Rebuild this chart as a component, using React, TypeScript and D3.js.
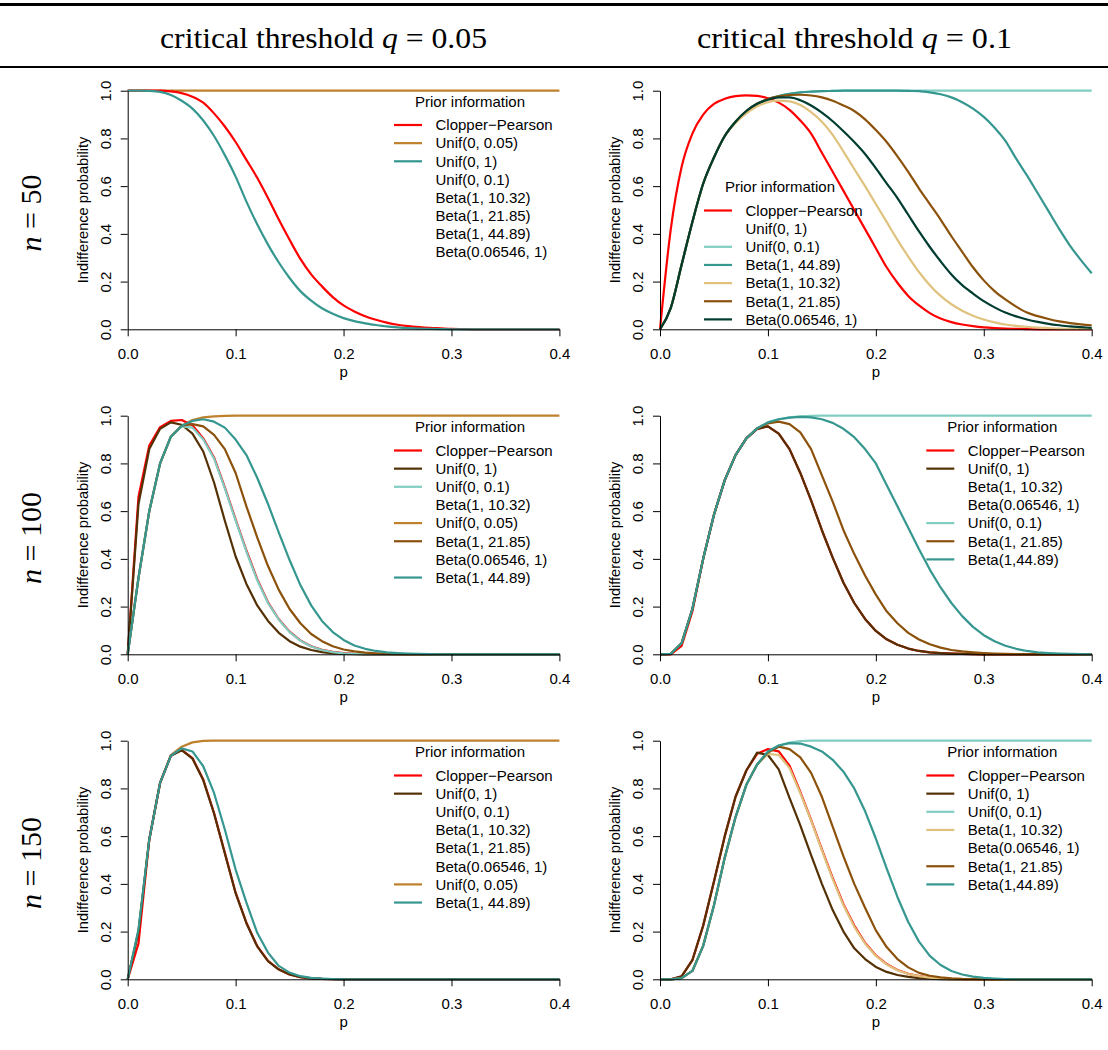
import React, { useEffect, useRef } from "react";
import * as d3 from "d3";

// p grid shared by every curve
const pGrid = [0, 0.01, 0.02, 0.03, 0.04, 0.05, 0.06, 0.07, 0.08, 0.09, 0.1, 0.11, 0.12, 0.13, 0.14, 0.15, 0.16, 0.17, 0.18, 0.19, 0.2, 0.21, 0.22, 0.23, 0.24, 0.25, 0.26, 0.27, 0.28, 0.29, 0.3, 0.31, 0.32, 0.33, 0.34, 0.35, 0.36, 0.37, 0.38, 0.39, 0.4];
const xTicks = [0, 0.1, 0.2, 0.3, 0.4];
const yTicks = [0, 0.2, 0.4, 0.6, 0.8, 1];
const colTitles = ["0.05", "0.1"];
const rowTitles = ["50", "100", "150"];

// colours
const RED = "#ff0000";
const ORANGE = "#bf812d";
const BEIGE = "#dfc27d";
const BROWN = "#8c510a";
const DKBROWN = "#543005";
const LTTEAL = "#80cdc1";
const TEAL = "#35978f";
const DKGREEN = "#003c30";

// n = 50, q = 0.05
const cp50q05 = [1, 1, 1, 1, 0.997, 0.99, 0.975, 0.95, 0.905, 0.85, 0.785, 0.71, 0.635, 0.55, 0.46, 0.375, 0.295, 0.23, 0.18, 0.135, 0.1, 0.075, 0.055, 0.04, 0.028, 0.019, 0.013, 0.009, 0.006, 0.004, 0.002, 0.001, 0, 0, 0, 0, 0, 0, 0, 0, 0];
const u005n50q05 = [1, 1, 1, 1, 1, 1, 1, 1, 1, 1, 1, 1, 1, 1, 1, 1, 1, 1, 1, 1, 1, 1, 1, 1, 1, 1, 1, 1, 1, 1, 1, 1, 1, 1, 1, 1, 1, 1, 1, 1, 1];
const u1n50q05 = [1, 1, 0.999, 0.995, 0.982, 0.958, 0.925, 0.875, 0.81, 0.73, 0.64, 0.535, 0.44, 0.355, 0.28, 0.215, 0.16, 0.12, 0.088, 0.065, 0.047, 0.034, 0.025, 0.018, 0.012, 0.008, 0.005, 0.003, 0.002, 0.001, 0, 0, 0, 0, 0, 0, 0, 0, 0, 0, 0];

// n = 50, q = 0.1
const cp50q1 = [0, 0.42, 0.68, 0.82, 0.9, 0.945, 0.966, 0.977, 0.98, 0.978, 0.968, 0.95, 0.92, 0.875, 0.82, 0.74, 0.66, 0.58, 0.5, 0.42, 0.34, 0.26, 0.195, 0.14, 0.1, 0.068, 0.045, 0.03, 0.02, 0.013, 0.008, 0.005, 0.003, 0.002, 0.001, 0, 0, 0, 0, 0, 0];
const u01n50q1 = [0, 0.09, 0.27, 0.45, 0.61, 0.72, 0.81, 0.87, 0.915, 0.945, 0.965, 0.978, 0.987, 0.993, 0.996, 0.998, 0.999, 1, 1, 1, 1, 1, 1, 1, 1, 1, 1, 1, 1, 1, 1, 1, 1, 1, 1, 1, 1, 1, 1, 1, 1];
const b4489n50q1 = [0, 0.09, 0.27, 0.45, 0.61, 0.72, 0.81, 0.87, 0.915, 0.945, 0.965, 0.978, 0.987, 0.993, 0.996, 0.998, 0.999, 1, 1, 1, 1, 1, 1, 0.999, 0.998, 0.993, 0.985, 0.972, 0.952, 0.925, 0.89, 0.845, 0.79, 0.715, 0.645, 0.57, 0.495, 0.42, 0.35, 0.29, 0.235];
const b1032n50q1 = [0, 0.09, 0.27, 0.45, 0.61, 0.72, 0.81, 0.865, 0.905, 0.935, 0.952, 0.958, 0.955, 0.94, 0.91, 0.87, 0.815, 0.745, 0.672, 0.6, 0.525, 0.45, 0.375, 0.305, 0.24, 0.185, 0.14, 0.105, 0.078, 0.057, 0.041, 0.029, 0.02, 0.014, 0.01, 0.007, 0.005, 0.003, 0.002, 0.002, 0.001];
const b2185n50q1 = [0, 0.09, 0.27, 0.45, 0.61, 0.72, 0.81, 0.87, 0.915, 0.945, 0.965, 0.976, 0.982, 0.983, 0.98, 0.972, 0.958, 0.938, 0.915, 0.88, 0.835, 0.785, 0.725, 0.66, 0.59, 0.525, 0.46, 0.39, 0.325, 0.26, 0.205, 0.16, 0.125, 0.095, 0.07, 0.055, 0.043, 0.033, 0.026, 0.021, 0.017];
const b06546n50q1 = [0, 0.09, 0.27, 0.45, 0.61, 0.72, 0.81, 0.87, 0.915, 0.945, 0.962, 0.972, 0.972, 0.96, 0.938, 0.908, 0.872, 0.83, 0.785, 0.735, 0.675, 0.612, 0.55, 0.48, 0.41, 0.345, 0.285, 0.23, 0.185, 0.15, 0.118, 0.092, 0.07, 0.054, 0.041, 0.031, 0.023, 0.017, 0.012, 0.009, 0.006];

// n = 100, q = 0.05
const cp100q05 = [0, 0.66, 0.875, 0.952, 0.978, 0.982, 0.96, 0.905, 0.825, 0.7, 0.565, 0.435, 0.315, 0.218, 0.147, 0.095, 0.058, 0.034, 0.019, 0.01, 0.005, 0.002, 0.001, 0, 0, 0, 0, 0, 0, 0, 0, 0, 0, 0, 0, 0, 0, 0, 0, 0, 0];
const u1n100q05 = [0, 0.63, 0.86, 0.945, 0.972, 0.962, 0.925, 0.85, 0.72, 0.56, 0.41, 0.295, 0.205, 0.14, 0.09, 0.055, 0.032, 0.018, 0.009, 0.004, 0.002, 0.001, 0, 0, 0, 0, 0, 0, 0, 0, 0, 0, 0, 0, 0, 0, 0, 0, 0, 0, 0];
const u01n100q05 = [0, 0.32, 0.6, 0.8, 0.912, 0.955, 0.95, 0.9, 0.82, 0.695, 0.56, 0.43, 0.31, 0.215, 0.145, 0.093, 0.057, 0.033, 0.018, 0.009, 0.004, 0.002, 0.001, 0, 0, 0, 0, 0, 0, 0, 0, 0, 0, 0, 0, 0, 0, 0, 0, 0, 0];
const u005n100q05 = [0, 0.32, 0.6, 0.8, 0.912, 0.958, 0.982, 0.993, 0.997, 0.999, 1, 1, 1, 1, 1, 1, 1, 1, 1, 1, 1, 1, 1, 1, 1, 1, 1, 1, 1, 1, 1, 1, 1, 1, 1, 1, 1, 1, 1, 1, 1];
const b2185n100q05 = [0, 0.32, 0.6, 0.8, 0.912, 0.958, 0.965, 0.955, 0.92, 0.86, 0.76, 0.62, 0.49, 0.37, 0.27, 0.19, 0.13, 0.085, 0.055, 0.034, 0.02, 0.012, 0.007, 0.004, 0.002, 0.001, 0, 0, 0, 0, 0, 0, 0, 0, 0, 0, 0, 0, 0, 0, 0];
const b4489n100q05 = [0, 0.32, 0.6, 0.8, 0.912, 0.958, 0.978, 0.985, 0.975, 0.95, 0.9, 0.835, 0.74, 0.63, 0.51, 0.395, 0.29, 0.205, 0.14, 0.093, 0.06, 0.037, 0.023, 0.014, 0.008, 0.005, 0.003, 0.002, 0.001, 0, 0, 0, 0, 0, 0, 0, 0, 0, 0, 0, 0];

// n = 100, q = 0.1
const cp100q1 = [0, 0, 0.035, 0.18, 0.4, 0.585, 0.73, 0.835, 0.905, 0.945, 0.955, 0.925, 0.86, 0.76, 0.645, 0.52, 0.405, 0.3, 0.215, 0.148, 0.098, 0.063, 0.04, 0.024, 0.014, 0.008, 0.005, 0.003, 0.002, 0.001, 0, 0, 0, 0, 0, 0, 0, 0, 0, 0, 0];
const u1n100q1 = [0, 0.002, 0.046, 0.19, 0.4, 0.585, 0.73, 0.835, 0.905, 0.945, 0.955, 0.925, 0.86, 0.76, 0.645, 0.52, 0.405, 0.3, 0.215, 0.148, 0.098, 0.063, 0.04, 0.024, 0.014, 0.008, 0.005, 0.003, 0.002, 0.001, 0, 0, 0, 0, 0, 0, 0, 0, 0, 0, 0];
const u01n100q1 = [0, 0.002, 0.046, 0.19, 0.4, 0.585, 0.73, 0.835, 0.905, 0.947, 0.972, 0.985, 0.993, 0.997, 0.999, 1, 1, 1, 1, 1, 1, 1, 1, 1, 1, 1, 1, 1, 1, 1, 1, 1, 1, 1, 1, 1, 1, 1, 1, 1, 1];
const b2185n100q1 = [0, 0.002, 0.046, 0.19, 0.4, 0.585, 0.73, 0.835, 0.905, 0.947, 0.968, 0.975, 0.965, 0.93, 0.86, 0.75, 0.64, 0.52, 0.42, 0.33, 0.25, 0.18, 0.13, 0.09, 0.062, 0.042, 0.028, 0.018, 0.012, 0.008, 0.005, 0.003, 0.002, 0.001, 0, 0, 0, 0, 0, 0, 0];
const b4489n100q1 = [0, 0.002, 0.046, 0.19, 0.4, 0.585, 0.73, 0.835, 0.905, 0.947, 0.972, 0.985, 0.992, 0.995, 0.993, 0.985, 0.97, 0.945, 0.91, 0.86, 0.8, 0.71, 0.62, 0.53, 0.44, 0.355, 0.28, 0.215, 0.16, 0.115, 0.08, 0.055, 0.036, 0.023, 0.014, 0.008, 0.005, 0.003, 0.002, 0.001, 0];

// n = 150, q = 0.05
const cp150q05 = [0, 0.15, 0.586, 0.823, 0.937, 0.962, 0.927, 0.837, 0.697, 0.53, 0.363, 0.237, 0.139, 0.077, 0.042, 0.02, 0.009, 0.004, 0.002, 0.001, 0, 0, 0, 0, 0, 0, 0, 0, 0, 0, 0, 0, 0, 0, 0, 0, 0, 0, 0, 0, 0];
const u1n150q05 = [0, 0.2, 0.586, 0.823, 0.937, 0.96, 0.925, 0.835, 0.695, 0.528, 0.361, 0.235, 0.138, 0.076, 0.041, 0.02, 0.009, 0.004, 0.002, 0.001, 0, 0, 0, 0, 0, 0, 0, 0, 0, 0, 0, 0, 0, 0, 0, 0, 0, 0, 0, 0, 0];
const u005n150q05 = [0, 0.2, 0.586, 0.823, 0.94, 0.975, 0.993, 0.999, 1, 1, 1, 1, 1, 1, 1, 1, 1, 1, 1, 1, 1, 1, 1, 1, 1, 1, 1, 1, 1, 1, 1, 1, 1, 1, 1, 1, 1, 1, 1, 1, 1];
const b4489n150q05 = [0, 0.21, 0.586, 0.823, 0.937, 0.968, 0.955, 0.893, 0.781, 0.628, 0.46, 0.321, 0.195, 0.112, 0.056, 0.028, 0.013, 0.006, 0.003, 0.001, 0, 0, 0, 0, 0, 0, 0, 0, 0, 0, 0, 0, 0, 0, 0, 0, 0, 0, 0, 0, 0];

// n = 150, q = 0.1
const cp150q1 = [0, 0, 0.012, 0.08, 0.225, 0.41, 0.6, 0.765, 0.875, 0.945, 0.965, 0.955, 0.895, 0.785, 0.668, 0.545, 0.425, 0.315, 0.225, 0.153, 0.1, 0.064, 0.039, 0.023, 0.013, 0.007, 0.004, 0.002, 0.001, 0, 0, 0, 0, 0, 0, 0, 0, 0, 0, 0, 0];
const u1n150q1 = [0, 0, 0.012, 0.08, 0.225, 0.41, 0.6, 0.765, 0.875, 0.95, 0.94, 0.88, 0.76, 0.645, 0.52, 0.4, 0.29, 0.2, 0.13, 0.085, 0.052, 0.031, 0.018, 0.01, 0.005, 0.003, 0.001, 0, 0, 0, 0, 0, 0, 0, 0, 0, 0, 0, 0, 0, 0];
const u01n150q1 = [0, 0, 0.005, 0.035, 0.14, 0.31, 0.51, 0.68, 0.815, 0.9, 0.955, 0.98, 0.992, 0.998, 1, 1, 1, 1, 1, 1, 1, 1, 1, 1, 1, 1, 1, 1, 1, 1, 1, 1, 1, 1, 1, 1, 1, 1, 1, 1, 1];
const b1032n150q1 = [0, 0, 0.005, 0.035, 0.14, 0.31, 0.51, 0.68, 0.815, 0.9, 0.945, 0.94, 0.885, 0.78, 0.665, 0.54, 0.42, 0.31, 0.22, 0.15, 0.098, 0.062, 0.038, 0.022, 0.013, 0.007, 0.004, 0.002, 0.001, 0, 0, 0, 0, 0, 0, 0, 0, 0, 0, 0, 0];
const b2185n150q1 = [0, 0, 0.005, 0.035, 0.14, 0.31, 0.51, 0.68, 0.815, 0.9, 0.95, 0.975, 0.965, 0.93, 0.865, 0.765, 0.64, 0.515, 0.4, 0.3, 0.205, 0.135, 0.085, 0.05, 0.027, 0.015, 0.008, 0.004, 0.002, 0.001, 0, 0, 0, 0, 0, 0, 0, 0, 0, 0, 0];
const b4489n150q1 = [0, 0, 0.005, 0.035, 0.14, 0.31, 0.51, 0.68, 0.815, 0.9, 0.955, 0.98, 0.99, 0.988, 0.975, 0.955, 0.92, 0.87, 0.8, 0.705, 0.59, 0.465, 0.345, 0.24, 0.158, 0.098, 0.06, 0.035, 0.02, 0.011, 0.006, 0.003, 0.001, 0, 0, 0, 0, 0, 0, 0, 0];

// legend labels per panel (null colour = no line sample)
const legend50q05 = ["Clopper\u2212Pearson", "Unif(0, 0.05)", "Unif(0, 1)", "Unif(0, 0.1)", "Beta(1, 10.32)", "Beta(1, 21.85)", "Beta(1, 44.89)", "Beta(0.06546, 1)"];
const legendCol50q05 = [RED, ORANGE, TEAL, null, null, null, null, null];
const legend50q1 = ["Clopper\u2212Pearson", "Unif(0, 1)", "Unif(0, 0.1)", "Beta(1, 44.89)", "Beta(1, 10.32)", "Beta(1, 21.85)", "Beta(0.06546, 1)"];
const legendCol50q1 = [RED, null, LTTEAL, TEAL, BEIGE, BROWN, DKGREEN];
const legend100q05 = ["Clopper\u2212Pearson", "Unif(0, 1)", "Unif(0, 0.1)", "Beta(1, 10.32)", "Unif(0, 0.05)", "Beta(1, 21.85)", "Beta(0.06546, 1)", "Beta(1, 44.89)"];
const legendCol100q05 = [RED, DKBROWN, LTTEAL, null, ORANGE, BROWN, null, TEAL];
const legend100q1 = ["Clopper\u2212Pearson", "Unif(0, 1)", "Beta(1, 10.32)", "Beta(0.06546, 1)", "Unif(0, 0.1)", "Beta(1, 21.85)", "Beta(1,44.89)"];
const legendCol100q1 = [RED, DKBROWN, null, null, LTTEAL, BROWN, TEAL];
const legend150q05 = ["Clopper\u2212Pearson", "Unif(0, 1)", "Unif(0, 0.1)", "Beta(1, 10.32)", "Beta(1, 21.85)", "Beta(0.06546, 1)", "Unif(0, 0.05)", "Beta(1, 44.89)"];
const legendCol150q05 = [RED, DKBROWN, null, null, null, null, ORANGE, TEAL];
const legend150q1 = ["Clopper\u2212Pearson", "Unif(0, 1)", "Unif(0, 0.1)", "Beta(1, 10.32)", "Beta(0.06546, 1)", "Beta(1, 21.85)", "Beta(1,44.89)"];
const legendCol150q1 = [RED, DKBROWN, LTTEAL, BEIGE, null, BROWN, TEAL];

// layout
const W = 1108;
const H = 1050;
const SANS = "'Liberation Sans', Arial, Helvetica, sans-serif";
const SERIF = "'Liberation Serif', 'Times New Roman', serif";
const colX = [127.7, 660];
const rowY = [90.7, 415.7, 740.7];
const plotW = 431.7;
const plotH = 238.6;
const headerX = [323.5, 854.5];
const headerW = [327, 315];

const panels = [
  { row: 0, col: 0, series: [[u005n50q05, ORANGE], [cp50q05, RED], [u1n50q05, TEAL]], labels: legend50q05, colors: legendCol50q05, lx: 266.3, ly: 10.5 },
  { row: 0, col: 1, series: [[u01n50q1, LTTEAL], [b4489n50q1, TEAL], [cp50q1, RED], [b1032n50q1, BEIGE], [b2185n50q1, BROWN], [b06546n50q1, DKGREEN]], labels: legend50q1, colors: legendCol50q1, lx: 44, ly: 96 },
  { row: 1, col: 0, series: [[u005n100q05, ORANGE], [cp100q05, RED], [u1n100q05, DKBROWN], [u01n100q05, LTTEAL], [b2185n100q05, BROWN], [b4489n100q05, TEAL]], labels: legend100q05, colors: legendCol100q05, lx: 266.3, ly: 11 },
  { row: 1, col: 1, series: [[u01n100q1, LTTEAL], [cp100q1, RED], [u1n100q1, DKBROWN], [b2185n100q1, BROWN], [b4489n100q1, TEAL]], labels: legend100q1, colors: legendCol100q1, lx: 266.3, ly: 11 },
  { row: 2, col: 0, series: [[u005n150q05, ORANGE], [cp150q05, RED], [u1n150q05, DKBROWN], [b4489n150q05, TEAL]], labels: legend150q05, colors: legendCol150q05, lx: 266.3, ly: 11 },
  { row: 2, col: 1, series: [[u01n150q1, LTTEAL], [cp150q1, RED], [u1n150q1, DKBROWN], [b1032n150q1, BEIGE], [b2185n150q1, BROWN], [b4489n150q1, TEAL]], labels: legend150q1, colors: legendCol150q1, lx: 266.3, ly: 11 },
];

const App = () => {
  const svgRef = useRef<SVGSVGElement>(null);

  useEffect(() => {
    document.body.style.margin = "0";
    const svg = d3.select(svgRef.current);
    svg.selectAll("*").remove();

    svg.append("rect").attr("width", W).attr("height", H).attr("fill", "#fff");

    // table rules
    svg.append("line").attr("x1", 0).attr("x2", W).attr("y1", 4.5).attr("y2", 4.5).attr("stroke", "#000").attr("stroke-width", 3);
    svg.append("line").attr("x1", 0).attr("x2", W).attr("y1", 67).attr("y2", 67).attr("stroke", "#000").attr("stroke-width", 1.8);

    // column headers
    colTitles.forEach((q, i) => {
      const t = svg
        .append("text")
        .attr("x", headerX[i])
        .attr("y", 48)
        .attr("text-anchor", "middle")
        .attr("textLength", headerW[i])
        .attr("lengthAdjust", "spacingAndGlyphs")
        .style("font-family", SERIF)
        .style("font-size", "30px");
      t.append("tspan").text("critical threshold ");
      t.append("tspan").style("font-style", "italic").text("q");
      t.append("tspan").text(` = ${q}`);
    });

    // row headers
    rowTitles.forEach((n, i) => {
      const t = svg
        .append("text")
        .attr("transform", `translate(41,${rowY[i] + plotH / 2 + 3}) rotate(-90)`)
        .attr("text-anchor", "middle")
        .style("font-family", SERIF)
        .style("font-size", "30px");
      t.append("tspan").style("font-style", "italic").text("n");
      t.append("tspan").text(` = ${n}`);
    });

    panels.forEach((pnl) => {
      const x0 = colX[pnl.col];
      const y1 = rowY[pnl.row];
      const x = d3.scaleLinear().domain([0, 0.4]).range([x0, x0 + plotW]);
      const y = d3.scaleLinear().domain([0, 1]).range([y1 + plotH, y1]);

      // curves (top row was drawn on a fine grid, so smooth it)
      const line = d3
        .line<number>()
        .x((_, i) => x(pGrid[i]))
        .y((d) => y(d))
        .curve(pnl.row === 0 ? d3.curveMonotoneX : d3.curveLinear);
      pnl.series.forEach(([vals, col]) => {
        svg
          .append("path")
          .attr("d", line(vals as number[]))
          .attr("fill", "none")
          .attr("stroke", col as string)
          .attr("stroke-width", 2.2)
          .attr("stroke-linejoin", "round");
      });

      // x axis
      const gx = svg
        .append("g")
        .attr("transform", `translate(0,${y1 + plotH})`)
        .call(d3.axisBottom(x).tickValues(xTicks).tickFormat(d3.format(".1f")).tickSize(7).tickSizeOuter(0).tickPadding(12));
      gx.select(".domain").attr("stroke", "#000");
      gx.selectAll("line").attr("stroke", "#000");
      gx.selectAll("text").style("font-family", SANS).style("font-size", "15px").attr("fill", "#000");

      // y axis
      const gy = svg
        .append("g")
        .attr("transform", `translate(${x0},0)`)
        .call(d3.axisLeft(y).tickValues(yTicks).tickFormat(d3.format(".1f")).tickSize(7).tickSizeOuter(0));
      gy.select(".domain").attr("stroke", "#000");
      gy.selectAll("line").attr("stroke", "#000");
      gy.selectAll("text")
        .attr("x", 0)
        .attr("dy", null)
        .attr("text-anchor", "middle")
        .attr("transform", "translate(-17,0) rotate(-90)")
        .style("font-family", SANS)
        .style("font-size", "15px")
        .attr("fill", "#000");

      // axis titles
      svg
        .append("text")
        .attr("x", x0 + plotW / 2)
        .attr("y", y1 + plotH + 48)
        .attr("text-anchor", "middle")
        .style("font-family", SANS)
        .style("font-size", "15px")
        .text("p");
      svg
        .append("text")
        .attr("transform", `translate(${x0 - 40.2},${y1 + plotH / 2}) rotate(-90)`)
        .attr("text-anchor", "middle")
        .style("font-family", SANS)
        .style("font-size", "14.6px")
        .text("Indifference probability");

      // legend
      const lx = x0 + pnl.lx;
      const tcy = y1 + pnl.ly;
      svg
        .append("text")
        .attr("x", lx + 76)
        .attr("y", tcy + 5.3)
        .attr("text-anchor", "middle")
        .style("font-family", SANS)
        .style("font-size", "15px")
        .text("Prior information");
      pnl.labels.forEach((lab, i) => {
        const cy = tcy + 23.8 + 18.15 * i;
        const c = pnl.colors[i];
        if (c) {
          svg
            .append("line")
            .attr("x1", lx)
            .attr("x2", lx + 28)
            .attr("y1", cy)
            .attr("y2", cy)
            .attr("stroke", c)
            .attr("stroke-width", 2.2);
        }
        svg
          .append("text")
          .attr("x", lx + 41.5)
          .attr("y", cy + 5.3)
          .style("font-family", SANS)
          .style("font-size", "15px")
          .text(lab);
      });
    });
  }, []);

  return <svg ref={svgRef} width={W} height={H} style={{ display: "block" }}></svg>;
};

export default App;
